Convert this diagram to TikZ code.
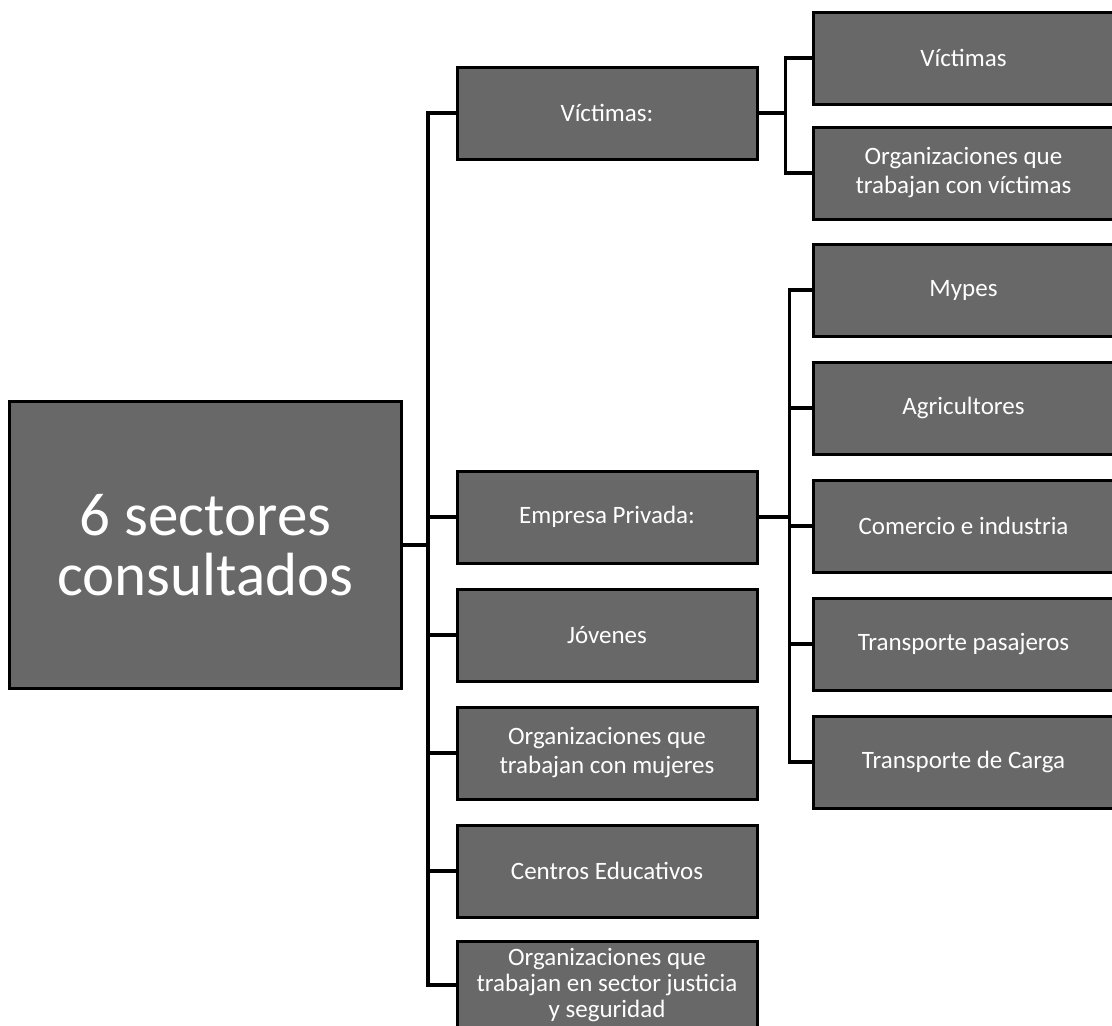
\documentclass[tikz,border=0pt]{standalone}
\usepackage{fontspec}
\setmainfont{Carlito}
\usepackage{tikz}
\usetikzlibrary{positioning}
\definecolor{boxgray}{RGB}{104,104,104}
\tikzset{
    sector/.style={
           rectangle,
           fill=boxgray,
           draw=black, line width=3pt,
           minimum width=300pt,
           minimum height=92pt,
           inner sep=2pt,
           text=white,
           align=center,
           font=\fontsize{25}{29}\selectfont,
           },
    link/.style={
           draw=black, line width=3.5pt,
           },
}

\begin{document}
\begin{tikzpicture}[x=1pt,y=-1pt]
 \useasboundingbox (0,0) rectangle (1112,1026);
 \node[sector,
 minimum width=392pt,
 minimum height=287pt,
 font=\fontsize{61}{60}\selectfont] (SEC) at (205.5,545)
 {6 sectores\\consultados};

 % primer nivel
 \node[sector] (VIC) at (607,113) {V\'ictimas:};
 \node[sector] (EMP) at (607,517) {Empresa Privada:};
 \node[sector,
 below=23pt of EMP] (JOV) {J\'ovenes};
 \node[sector,
 below=23pt of JOV] (ORM) {Organizaciones que\\trabajan con mujeres};
 \node[sector,
 below=23pt of ORM] (CED) {Centros Educativos};
 \node[sector,
 below=21pt of CED,
 minimum height=88pt,
 inner sep=0pt,
 font=\fontsize{25}{26}\selectfont] (OJS) {Organizaciones que\\trabajan en sector justicia\\y seguridad};

 % segundo nivel
 \node[sector] (VV) at (963.5,58) {V\'ictimas};
 \node[sector,
 below=20pt of VV] (OV) {Organizaciones que\\trabajan con v\'ictimas};
 \node[sector] (MYP) at (963.5,290) {Mypes};
 \node[sector,
 below=23pt of MYP] (AGR) {Agricultores};
 \node[sector,
 below=23pt of AGR] (CEI) {Comercio e industria};
 \node[sector,
 below=23pt of CEI] (TPA) {Transporte pasajeros};
 \node[sector,
 below=23pt of TPA] (TCA) {Transporte de Carga};

 \draw[link]
  (SEC.east) -- ++(25,0) |- (VIC.west)
  (SEC.east) -- ++(25,0) |- (EMP.west)
  (SEC.east) -- ++(25,0) |- (JOV.west)
  (SEC.east) -- ++(25,0) |- (ORM.west)
  (SEC.east) -- ++(25,0) |- (CED.west)
  (SEC.east) -- ++(25,0) |- (OJS.west)
  (VIC.east) -- ++(27,0) |- (VV.west)
  (VIC.east) -- ++(27,0) |- (OV.west)
  (EMP.east) -- ++(31,0) |- (MYP.west)
  (EMP.east) -- ++(31,0) |- (AGR.west)
  (EMP.east) -- ++(31,0) |- (CEI.west)
  (EMP.east) -- ++(31,0) |- (TPA.west)
  (EMP.east) -- ++(31,0) |- (TCA.west)
 ;
\end{tikzpicture}
\end{document}
